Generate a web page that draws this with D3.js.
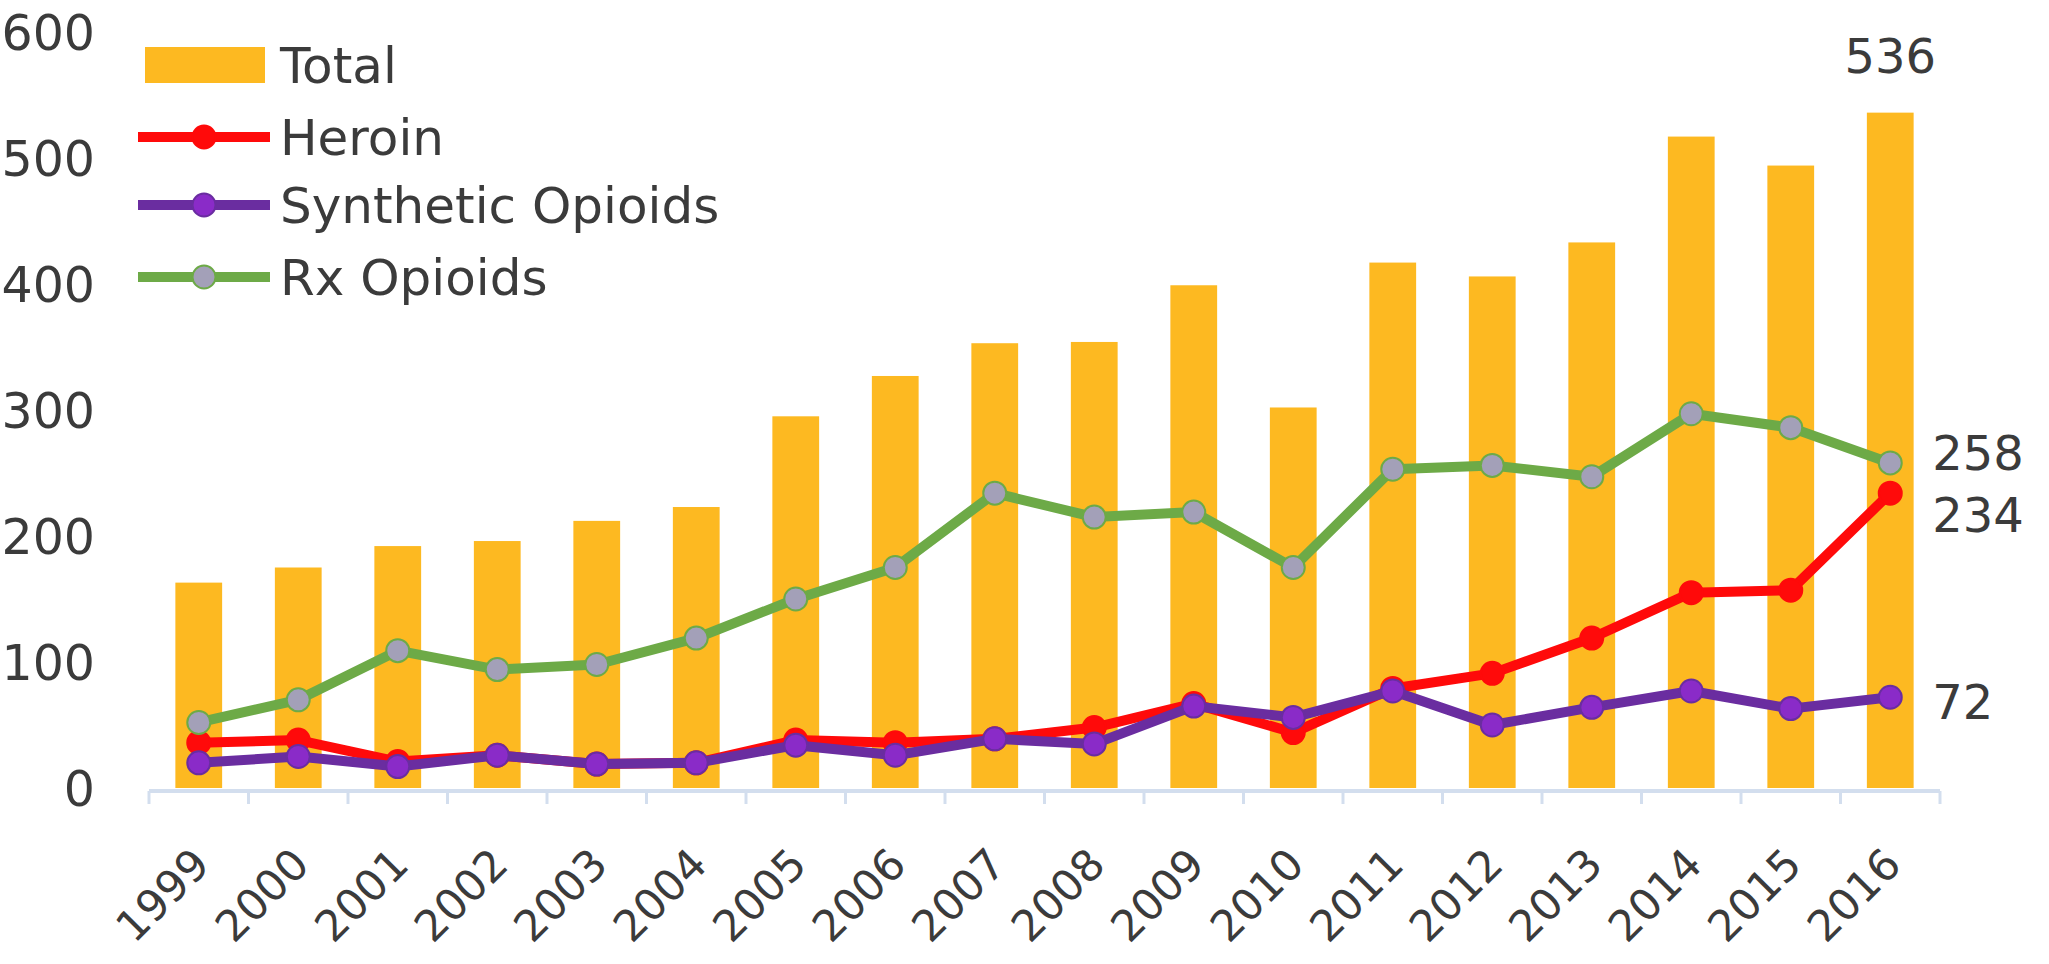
<!DOCTYPE html>
<html><head><meta charset="utf-8">
<script src="https://cdn.jsdelivr.net/npm/d3@7"></script>
<style>body{margin:0;background:#fff;overflow:hidden;} svg{display:block;}</style>
</head><body>
<svg id="c" width="2049" height="964"></svg>
<script>
// ---- data ----
const years = ["1999","2000","2001","2002","2003","2004","2005","2006","2007","2008","2009","2010","2011","2012","2013","2014","2015","2016"];
const total = [163,175,192,196,212,223,295,327,353,354,399,302,417,406,433,517,494,536];
const heroin = [36,38,21,26,19,20,38,36,39,48,67,44,79,91,119,155,157,234];
const synthetic = [20,25,17,26,19,20,34,26,39,35,65,56,77,50,64,77,63,72];
const rx = [52,70,109,94,98,119,150,175,234,215,219,175,253,256,247,297,286,258];
const yTicks = [0,100,200,300,400,500,600];
const seriesNames = ["Total","Heroin","Synthetic Opioids","Rx Opioids"];

// ---- styles ----
const FONT = "DejaVu Sans";
const TXT = "#3b3b3b";
const BAR = "#FDB921";
const lineSeries = [
  {name:"Heroin", values:heroin, stroke:"#FF0A0A", fill:"#FF0A0A", labelDy:39},
  {name:"Synthetic Opioids", values:synthetic, stroke:"#6A2DA0", fill:"#8A2BC8", labelDy:22},
  {name:"Rx Opioids", values:rx, stroke:"#6DAA47", fill:"#A3A0B8", labelDy:7}
];

const svg = d3.select("#c");
const x = d3.scaleBand().domain(years).range([149,1940]).paddingInner(0.53).paddingOuter(0.265);
const y = d3.scaleLinear().domain([0,600]).range([788,32]);
const cx = d => x(d) + x.bandwidth()/2;

// bars
svg.append("g").selectAll("rect").data(years).join("rect")
  .attr("x", d => x(d)).attr("width", x.bandwidth())
  .attr("y", (d,i) => y(total[i])).attr("height", (d,i) => y(0) - y(total[i]))
  .attr("fill", BAR);

// x baseline + category boundary ticks
const step = x.step();
const bounds = d3.range(years.length + 1).map(i => x.range()[0] + i*step);
svg.append("line").attr("x1", bounds[0]).attr("x2", bounds[bounds.length-1])
  .attr("y1", y(0)+3).attr("y2", y(0)+3).attr("stroke","#D3DEEE").attr("stroke-width",4);
svg.append("g").selectAll("line").data(bounds).join("line")
  .attr("x1", d=>d).attr("x2", d=>d).attr("y1", y(0)+3).attr("y2", y(0)+16)
  .attr("stroke","#D3DEEE").attr("stroke-width",3);

// y axis
const yAxis = svg.append("g").attr("transform","translate(95,0)")
  .call(d3.axisLeft(y).tickValues(yTicks).tickSize(0).tickPadding(0));
yAxis.select(".domain").remove();
yAxis.selectAll("text").attr("font-family", FONT).attr("font-size", 49).attr("fill", TXT).attr("dy","0.36em");

// x axis
const xAxis = svg.append("g").attr("transform",`translate(0,${y(0)})`)
  .call(d3.axisBottom(x).tickSize(0));
xAxis.select(".domain").remove();
xAxis.selectAll("text").attr("font-family", FONT).attr("font-size", 43).attr("fill", TXT)
  .attr("text-anchor","end").attr("x",0).attr("y",0).attr("dy",0)
  .attr("transform","translate(13,79) rotate(-45)");

// lines
const line = d3.line().x((d,i) => cx(years[i])).y(d => y(d));
lineSeries.forEach(s => {
  const g = svg.append("g");
  g.append("path").datum(s.values).attr("d", line).attr("fill","none")
    .attr("stroke", s.stroke).attr("stroke-width", 10).attr("stroke-linejoin","round");
  g.selectAll("circle").data(s.values).join("circle")
    .attr("cx",(d,i)=>cx(years[i])).attr("cy", d=>y(d)).attr("r", 11.5)
    .attr("fill", s.fill).attr("stroke", s.stroke).attr("stroke-width", 2);
});

// end labels
const last = years.length - 1;
svg.append("text").attr("x", cx(years[last])).attr("y", y(total[last]) - 40)
  .attr("text-anchor","middle").attr("font-family",FONT).attr("font-size",48).attr("fill",TXT)
  .text(total[last]);
lineSeries.forEach(s => {
  svg.append("text").attr("x", cx(years[last]) + 42).attr("y", y(s.values[last]) + s.labelDy)
    .attr("font-family",FONT).attr("font-size",48).attr("fill",TXT).text(s.values[last]);
});

// legend
const legRows = [65,137,205,277];
const leg = svg.append("g");
leg.append("rect").attr("x",145).attr("y",legRows[0]-18).attr("width",120).attr("height",36).attr("fill",BAR);
lineSeries.forEach((s,i) => {
  const ry = legRows[i+1];
  leg.append("line").attr("x1",138).attr("x2",270).attr("y1",ry).attr("y2",ry)
    .attr("stroke",s.stroke).attr("stroke-width",10);
  leg.append("circle").attr("cx",204).attr("cy",ry).attr("r",11.5)
    .attr("fill",s.fill).attr("stroke",s.stroke).attr("stroke-width",2);
});
seriesNames.forEach((n,i) => {
  leg.append("text").attr("x",280).attr("y",legRows[i]+18).attr("font-family",FONT)
    .attr("font-size",50).attr("fill",TXT).text(n);
});
</script>
</body></html>
